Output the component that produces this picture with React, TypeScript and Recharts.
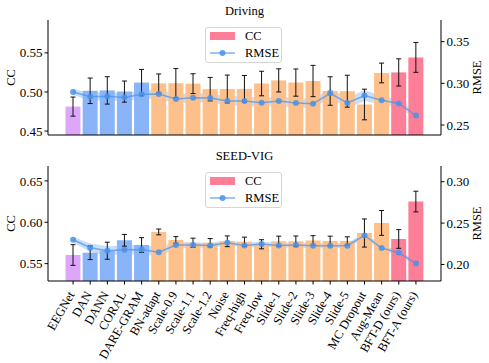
import React from 'react';
import { ComposedChart, Bar, Line, Area, XAxis, YAxis, ErrorBar, Cell } from 'recharts';

// categories (x axis) and their colour group
const methods = [
  'EEGNet', 'DAN', 'DANN', 'CORAL', 'DARE-GRAM', 'BN-adapt', 'Scale-0.9', 'Scale-1.1',
  'Scale-1.2', 'Noise', 'Freq-high', 'Freq-low', 'Slide-1', 'Slide-2', 'Slide-3',
  'Slide-4', 'Slide-5', 'MC Dropout', 'Aug-Mean', 'BFT-D (ours)', 'BFT-A (ours)',
];
const methodGroup = [
  'base', 'da', 'da', 'da', 'da', 'tta', 'tta', 'tta', 'tta', 'tta', 'tta', 'tta',
  'tta', 'tta', 'tta', 'tta', 'tta', 'tta', 'tta', 'ours', 'ours',
];

// Driving
const drivingCC = [
  0.4813, 0.5015, 0.5020, 0.5005, 0.5120, 0.5110, 0.5112, 0.5106, 0.5036, 0.5038, 0.5040,
  0.5108, 0.5148, 0.5120, 0.5140, 0.5012, 0.5010, 0.4840, 0.5243, 0.5250, 0.5442,
];
const drivingCCStd = [
  0.0122, 0.0163, 0.0175, 0.0135, 0.0168, 0.0120, 0.0187, 0.0127, 0.0150, 0.0178, 0.0170,
  0.0157, 0.0148, 0.0174, 0.0200, 0.0182, 0.0204, 0.0196, 0.0126, 0.0174, 0.0191,
];
const drivingRMSE = [
  0.2897, 0.2838, 0.2846, 0.2830, 0.2868, 0.2873, 0.2813, 0.2828, 0.2824, 0.2789, 0.2789,
  0.2768, 0.2789, 0.2765, 0.2756, 0.2880, 0.2765, 0.2854, 0.2798, 0.2758, 0.2614,
];
const drivingRMSEStd = [
  0.0035, 0.0050, 0.0050, 0.0050, 0.0050, 0.0055, 0.0055, 0.0055, 0.0055, 0.0055, 0.0055,
  0.0055, 0.0055, 0.0055, 0.0055, 0.0055, 0.0060, 0.0065, 0.0050, 0.0045, 0.0035,
];

// SEED-VIG
const seedCC = [
  0.5604, 0.5632, 0.5656, 0.5782, 0.5725, 0.5883, 0.5786, 0.5753, 0.5753, 0.5770, 0.5765,
  0.5734, 0.5770, 0.5770, 0.5780, 0.5774, 0.5774, 0.5870, 0.5992, 0.5798, 0.6250,
];
const seedCCStd = [
  0.0125, 0.0083, 0.0103, 0.0071, 0.0089, 0.0035, 0.0040, 0.0055, 0.0050, 0.0065, 0.0055,
  0.0055, 0.0062, 0.0064, 0.0058, 0.0058, 0.0050, 0.0170, 0.0150, 0.0113, 0.0125,
];
const seedRMSE = [
  0.2299, 0.2202, 0.2166, 0.2178, 0.2182, 0.2149, 0.2234, 0.2234, 0.2230, 0.2263, 0.2230,
  0.2246, 0.2230, 0.2234, 0.2226, 0.2226, 0.2226, 0.2351, 0.2198, 0.2141, 0.2012,
];
const seedRMSEStd = [
  0.0035, 0.0050, 0.0055, 0.0055, 0.0055, 0.0055, 0.0040, 0.0030, 0.0030, 0.0030, 0.0030,
  0.0030, 0.0030, 0.0030, 0.0030, 0.0030, 0.0030, 0.0035, 0.0030, 0.0030, 0.0030,
];

const GROUP_COLORS = {
  base: '#dda7f9',
  da: '#89b5f8',
  tta: '#fdc08b',
  ours: '#fc7f97',
};
const LINE_COLOR = '#4a92ea';
const FONT = "'Liberation Serif', 'Times New Roman', serif";

const buildRows = (cc, ccStd, rmse, rmseStd) =>
  methods.map((name, i) => ({
    name,
    cc: cc[i],
    ccStd: ccStd[i],
    rmse: rmse[i],
    band: [rmse[i] - rmseStd[i], rmse[i] + rmseStd[i]],
  }));

const drivingRows = buildRows(drivingCC, drivingCCStd, drivingRMSE, drivingRMSEStd);
const seedRows = buildRows(seedCC, seedCCStd, seedRMSE, seedRMSEStd);

const AxisTitle = ({ viewBox, text, dx }) => {
  const cx = viewBox.x + dx;
  const cy = viewBox.y + viewBox.height / 2;
  return (
    <text x={cx} y={cy} transform={`rotate(-90, ${cx}, ${cy})`} textAnchor="middle"
      dominantBaseline="central" fontSize={12.5} fontFamily={FONT} fill="#000">
      {text}
    </text>
  );
};

const SlantTick = ({ x, y, payload }) => {
  const ax = x + 2;
  const ay = y + 8;
  return (
    <text x={ax} y={ay} transform={`rotate(-60, ${ax}, ${ay})`} textAnchor="end"
      fontSize={12.5} fontFamily={FONT} fill="#000">
      {payload.value}
    </text>
  );
};

const LegendBox = ({ top }) => (
  <div style={{
    position: 'absolute', left: 205, top, width: 77, height: 36, boxSizing: 'border-box',
    border: '1px solid #d6d6d6', borderRadius: 3, background: 'rgba(255,255,255,0.85)',
    fontFamily: FONT, fontSize: 12.5, color: '#000',
  }}>
    <svg width={34} height={36} style={{ position: 'absolute', left: 0, top: 0 }}>
      <rect x={4} y={4} width={25} height={8} fill={GROUP_COLORS.ours} />
      <line x1={4} x2={29} y1={25} y2={25} stroke={LINE_COLOR} strokeOpacity={0.7} strokeWidth={1.5} />
      <circle cx={16.5} cy={25} r={3} fill={LINE_COLOR} fillOpacity={0.85} />
    </svg>
    <div style={{ position: 'absolute', left: 39, top: 0, lineHeight: '16px' }}>CC</div>
    <div style={{ position: 'absolute', left: 39, top: 17, lineHeight: '16px' }}>RMSE</div>
  </div>
);

const Panel = ({ rows, ccDomain, ccTicks, rmseDomain, rmseTicks, height, marginTop, xHeight, labels }) => (
  <ComposedChart width={489} height={height} data={rows}
    margin={{ top: marginTop, right: 0, bottom: 0, left: 0 }}>
    <XAxis dataKey="name" height={xHeight} interval={0} padding={{ left: 16.5, right: 16.5 }}
      axisLine={{ stroke: '#000' }} tickLine={{ stroke: '#000' }} tickSize={3.5} tickMargin={2}
      tick={labels ? <SlantTick /> : false} />
    <XAxis xAxisId="top" dataKey="name" orientation="top" height={0} tick={false} tickLine={false}
      padding={{ left: 16.5, right: 16.5 }} axisLine={{ stroke: '#000' }} />
    <YAxis yAxisId="left" width={48} domain={ccDomain} ticks={ccTicks} allowDataOverflow
      axisLine={{ stroke: '#000' }} tickLine={{ stroke: '#000' }} tickSize={3.5} tickMargin={2}
      tick={{ fill: '#000', fontSize: 13, fontFamily: FONT }}
      tickFormatter={(v) => v.toFixed(2)}
      label={(p) => <AxisTitle viewBox={p.viewBox} text="CC" dx={11} />} />
    <YAxis yAxisId="right" orientation="right" width={48} domain={rmseDomain} ticks={rmseTicks}
      allowDataOverflow axisLine={{ stroke: '#000' }} tickLine={{ stroke: '#000' }} tickSize={3.5}
      tickMargin={2} tick={{ fill: '#000', fontSize: 13, fontFamily: FONT }}
      tickFormatter={(v) => v.toFixed(2)}
      label={(p) => <AxisTitle viewBox={p.viewBox} text="RMSE" dx={36} />} />
    <Bar yAxisId="left" dataKey="cc" barSize={15} isAnimationActive={false}>
      {rows.map((r, i) => (
        <Cell key={`cell-${i}`} fill={GROUP_COLORS[methodGroup[i]]} />
      ))}
      <ErrorBar dataKey="ccStd" width={2.5} stroke="#111" strokeWidth={1} direction="y" />
    </Bar>
    <Area yAxisId="right" dataKey="band" type="linear" stroke="none" fill={LINE_COLOR}
      fillOpacity={0.3} activeDot={false} isAnimationActive={false} />
    <Line yAxisId="right" dataKey="rmse" type="linear" stroke={LINE_COLOR} strokeOpacity={0.7}
      strokeWidth={1.5} dot={{ r: 3, fill: LINE_COLOR, fillOpacity: 0.85, stroke: 'none' }}
      activeDot={false} isAnimationActive={false} />
  </ComposedChart>
);

const titleStyle = {
  position: 'absolute', left: 48, width: 393, textAlign: 'center', fontFamily: FONT,
  fontSize: 12.5, lineHeight: '14px', color: '#000',
};

export default function App() {
  return (
    <div style={{ position: 'absolute', left: 0, top: 0, width: 489, height: 363, background: '#fff' }}>
      <div style={{ ...titleStyle, top: 4 }}>Driving</div>
      <div style={{ position: 'absolute', left: 0, top: 0 }}>
        <Panel rows={drivingRows} ccDomain={[0.445, 0.592]} ccTicks={[0.45, 0.5, 0.55]}
          rmseDomain={[0.238, 0.376]} rmseTicks={[0.25, 0.3, 0.35]}
          height={140} marginTop={20} xHeight={5} labels={false} />
      </div>
      <LegendBox top={27} />
      <div style={{ ...titleStyle, top: 149 }}>SEED-VIG</div>
      <div style={{ position: 'absolute', left: 0, top: 140 }}>
        <Panel rows={seedRows} ccDomain={[0.529, 0.668]} ccTicks={[0.55, 0.6, 0.65]}
          rmseDomain={[0.18, 0.319]} rmseTicks={[0.2, 0.25, 0.3]}
          height={223} marginTop={26} xHeight={82} labels />
      </div>
      <LegendBox top={172} />
    </div>
  );
}
